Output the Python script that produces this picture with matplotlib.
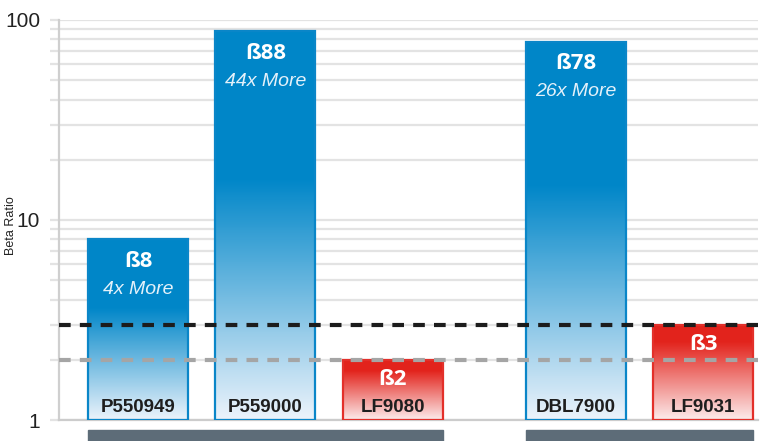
import matplotlib
matplotlib.use('Agg')
import matplotlib.pyplot as plt
import numpy as np
import matplotlib.transforms as mtransforms
from matplotlib.patches import Rectangle
from matplotlib import font_manager

# ---------------- data ----------------
products = ['P550949', 'P559000', 'LF9080', 'DBL7900', 'LF9031']
beta = [8, 88, 2, 78, 3]
beta_labels = ['ß8', 'ß88', 'ß2', 'ß78', 'ß3']
more_labels = ['4x More', '44x More', '', '26x More', '']
brand = ['ours', 'ours', 'rival', 'ours', 'rival']
group = [0, 0, 0, 1, 1]
ref_lines = [3, 2]
yticks = [1, 10, 100]

# ---------------- fonts ----------------
names = {f.name for f in font_manager.fontManager.ttflist}
narrow = 'Liberation Sans Narrow' if 'Liberation Sans Narrow' in names else 'Liberation Sans'
bold_font = 'Open Sans' if 'Open Sans' in names else 'DejaVu Sans'

W, H = 765, 441
fig = plt.figure(figsize=(W / 100, H / 100), dpi=100)
ax = fig.add_axes([59 / W, 1 - 420 / H, (758 - 59) / W, 400 / H])
ax.set_yscale('log')
ax.set_ylim(1, 100)

gap = 0.435
x = [i + g * gap for i, g in enumerate(group)]
width = 0.785
ax.set_xlim(x[0] - 0.62, x[-1] + 0.43)

# grid
ax.set_yticks(yticks)
ax.set_yticklabels([str(t) for t in yticks])
ax.yaxis.set_minor_locator(matplotlib.ticker.LogLocator(base=10, subs=np.arange(2, 10)))
ax.yaxis.set_minor_formatter(matplotlib.ticker.NullFormatter())
ax.grid(True, which='both', axis='y', color='#e3e3e3', lw=1.6, zorder=0)
ax.set_axisbelow(True)
ax.tick_params(axis='y', which='both', length=6.5, width=1.6, color='#e3e3e3',
               pad=7, labelsize=15, labelcolor='#222222')
ax.tick_params(axis='x', bottom=False, labelbottom=False)
for lab in ax.get_yticklabels():
    lab.set_fontfamily(narrow)
for s in ['top', 'right']:
    ax.spines[s].set_visible(False)
ax.spines['left'].set_color('#cfcfcf')
ax.spines['left'].set_linewidth(1.6)
ax.spines['bottom'].set_color('#cccccc')
ax.spines['bottom'].set_linewidth(1.6)
fig.text(11 / W, 1 - 226 / H, 'Beta Ratio', rotation=90, fontsize=9, family=narrow,
         color='#222222', ha='center', va='center')

# gradient bars
palette = {
    'ours': ((0 / 255, 134 / 255, 200 / 255), (236 / 255, 243 / 255, 251 / 255), 0.38, '#0a86c8'),
    'rival': ((226 / 255, 35 / 255, 28 / 255), (252 / 255, 236 / 255, 236 / 255), 0.18, '#e3302a'),
}
N = 400
for xi, v, b in zip(x, beta, brand):
    top_c, bot_c, solid, edge = palette[b]
    edges = np.logspace(np.log10(v), 0, N + 1)  # top -> bottom, pixel-linear
    frac = (np.arange(N) + 0.5) / N
    t = np.clip((frac - solid) / (1 - solid), 0, 1)
    cols = [tuple(np.array(top_c) + ti * (np.array(bot_c) - np.array(top_c))) for ti in t]
    ax.bar([xi] * N, edges[:-1] - edges[1:], bottom=edges[1:], width=width,
           color=cols, linewidth=0, antialiased=False, zorder=2)
    ax.bar(xi, v - 1, bottom=1, width=width, fill=False, edgecolor=edge,
           linewidth=1.6, zorder=3)

# reference lines
ax.axhline(ref_lines[0], color='#1c1c1c', lw=3.0, ls=(0, (2.8, 2.2)),
           dash_capstyle='butt', zorder=5)
ax.axhline(ref_lines[1], color='#a5a5a5', lw=3.0, ls=(0, (2.8, 2.2)),
           dash_capstyle='butt', zorder=5)

# labels
for xi, v, bl, ml, b, p in zip(x, beta, beta_labels, more_labels, brand, products):
    off = -22 if b == 'ours' else -20
    ax.annotate(bl, (xi, v), xytext=(0, off), textcoords='offset pixels',
                ha='center', va='center', fontsize=16, fontweight='bold',
                family=bold_font, color='white', zorder=6)
    if ml:
        ax.annotate(ml, (xi, v), xytext=(0, -50), textcoords='offset pixels',
                    ha='center', va='center', fontsize=14, style='italic',
                    family=narrow, color='#e4f1fa', zorder=6)
    ax.annotate(p, (xi, 1), xytext=(0, 13), textcoords='offset pixels',
                ha='center', va='center', fontsize=13.5, fontweight='bold',
                family=narrow, color='#1e1e1e', zorder=6)

# group bars below the axis
trans = mtransforms.blended_transform_factory(ax.transData, fig.transFigure)
for g in sorted(set(group)):
    xs = [xi for xi, gg in zip(x, group) if gg == g]
    left = min(xs) - width / 2
    right = max(xs) + width / 2
    fig.patches.append(Rectangle((left, 0), right - left, 11 / H, transform=trans,
                                 color='#5d6c78', clip_on=False))

fig.savefig('out.png', dpi=100)
